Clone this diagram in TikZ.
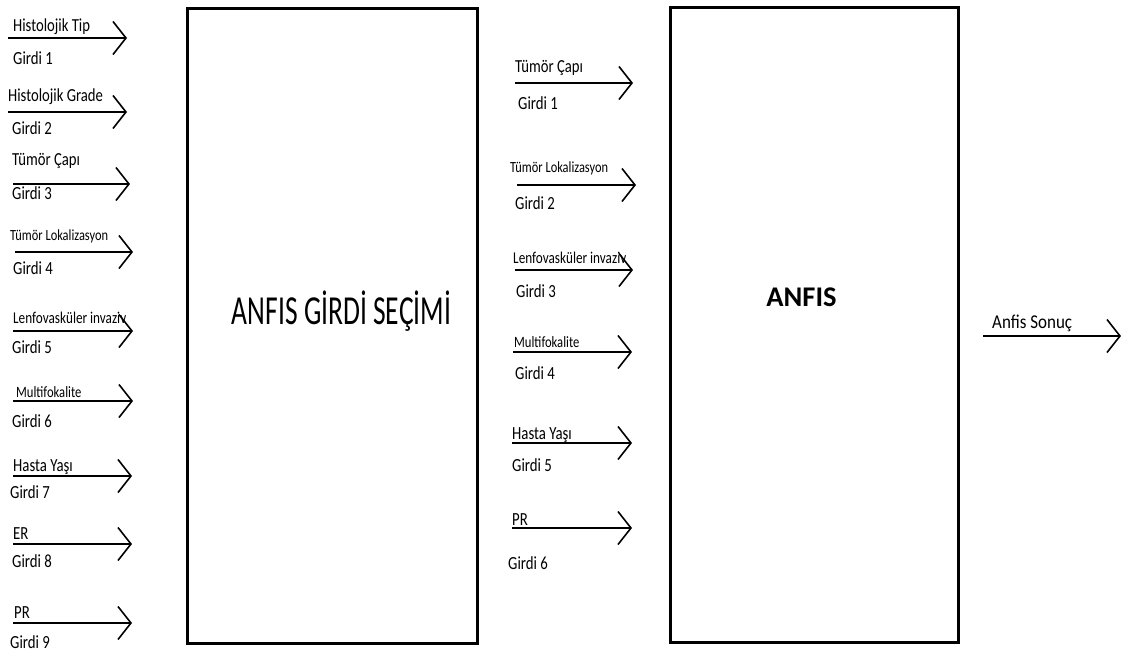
\documentclass[tikz,border=0pt]{standalone}
\usepackage{fontspec}
\setmainfont{Carlito}
\usetikzlibrary{arrows.meta}
\begin{document}
\begin{tikzpicture}[x=1pt,y=-1pt,
  arr/.style={line width=1.6pt,-{Straight Barb[length=13pt,width=33pt,line width=1.6pt]}},
  box/.style={draw,line width=3pt},
  lbl/.style={anchor=west,inner sep=0pt,yscale=1.25,font=\fontsize{#1}{#1}\selectfont},
  lbl/.default=14.8]
\useasboundingbox[fill=white] (0,0) rectangle (1123,653);
% boxes
\draw[box] (187,8) rectangle (477,643);
\draw[box] (670,7) rectangle (958,642);
\node[inner sep=0pt,yscale=1.5,font=\fontsize{27.5}{27.5}\selectfont] (t1) at (341.5,311.5) {ANFIS GİRDİ SEÇİMİ};
\node[inner sep=0pt,font=\fontsize{28.5}{28.5}\selectfont\bfseries] (t2) at (801.5,297.5) {ANFIS};
% left column
\foreach \i/\ya/\xa/\xb/\txt/\fs/\xl/\yl/\xg/\yg in {
  1/38/8/127/Histolojik Tip/14.7/13/27/13/58,
  2/112/8/127/Histolojik Grade/14.7/8/97/12/128,
  3/184/13/130/Tümör Çapı/14.7/12/161/12/193,
  4/252/15/133/Tümör Lokalizasyon/12.4/10/236/13/268,
  5/331/13/133/Lenfovasküler invaziv/13.2/13/318/12/347,
  6/401/13/133/Multifokalite/12.6/16/392/12/421,
  7/476/13/132/Hasta Yaşı/14.8/13/467/10/492,
  8/544/13/132/ER/14.8/13/534/12/561,
  9/623/13/132/PR/14.8/14/613/10/642}{
  \coordinate (ls\i) at (\xa,\ya);
  \coordinate (le\i) at (\xb,\ya);
  \draw[arr] (ls\i) -- (le\i);
  \node[lbl=\fs] (ln\i) at (\xl,\yl) {\txt};
  \node[lbl] (lg\i) at (\xg,\yg) {Girdi \i};
}
% middle column
\foreach \i/\ya/\xa/\xb/\txt/\fs/\xl/\yl/\xg/\yg in {
  1/83/515/633/Tümör Çapı/14.7/515/68/518/103,
  2/185/517/636/Tümör Lokalizasyon/12.4/510/168/515/203,
  3/270/515/633/Lenfovasküler invaziv/13.2/513/258/516/291,
  4/352/513/632/Multifokalite/12.6/514/342/515/373,
  5/443/512/632/Hasta Yaşı/14.8/512/435/512/465,
  6/528/512/632/PR/14.8/512/520/508/563}{
  \coordinate (ms\i) at (\xa,\ya);
  \coordinate (me\i) at (\xb,\ya);
  \draw[arr] (ms\i) -- (me\i);
  \node[lbl=\fs] (mn\i) at (\xl,\yl) {\txt};
  \node[lbl] (mg\i) at (\xg,\yg) {Girdi \i};
}
% output
\coordinate (os) at (983,336);
\coordinate (oe) at (1121,336);
\draw[arr] (os) -- (oe);
\node[anchor=west,inner sep=0pt,yscale=1.15,font=\fontsize{17}{17}\selectfont] (on) at (992,323) {Anfis Sonuç};
\end{tikzpicture}
\end{document}
